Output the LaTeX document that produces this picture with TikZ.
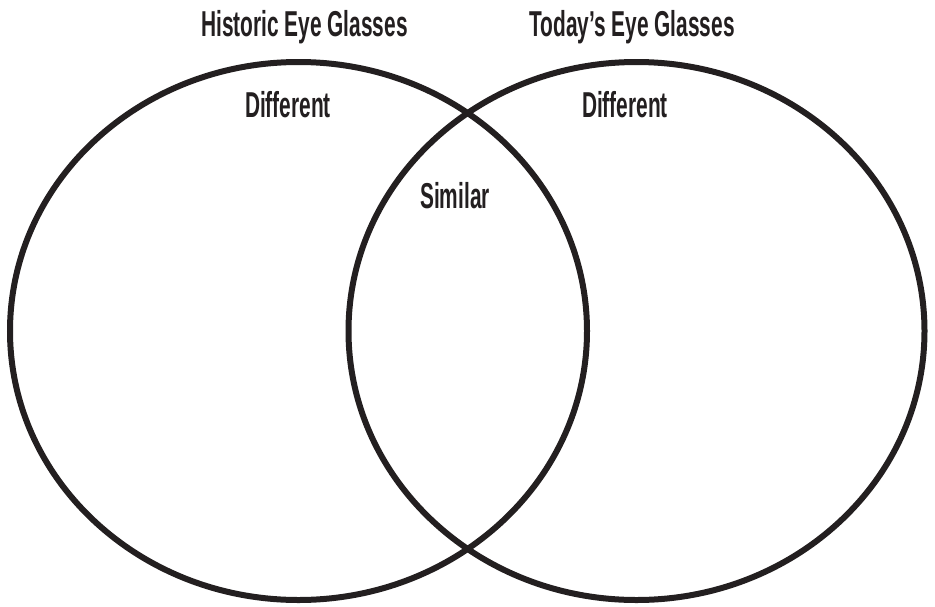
\documentclass[tikz,border=0pt]{standalone}
\usepackage{fontspec}
\newfontfamily\cond[FakeStretch=0.58]{Liberation Sans}
\definecolor{ink}{HTML}{231F20}
\begin{document}
\begin{tikzpicture}[x=1pt,y=-1pt,
  ring/.style={draw=ink,line width=6pt},
  lbl/.style={anchor=base,inner sep=0pt,text=ink,font=\cond\bfseries\fontsize{36}{40}\selectfont}]
\useasboundingbox (0,0) rectangle (935,606);
\draw[ring] (298.5,331) ellipse [x radius=288.5,y radius=269];
\draw[ring] (636.5,331) ellipse [x radius=288,y radius=269];
\node[lbl] (hist) at (304.5,36) {Historic Eye Glasses};
\node[lbl] (today) at (632,36) {Today’s Eye Glasses};
\node[lbl] (difl) at (288,117) {Different};
\node[lbl] (difr) at (625,117) {Different};
\node[lbl] (sim) at (455,208) {Similar};
\end{tikzpicture}
\end{document}
